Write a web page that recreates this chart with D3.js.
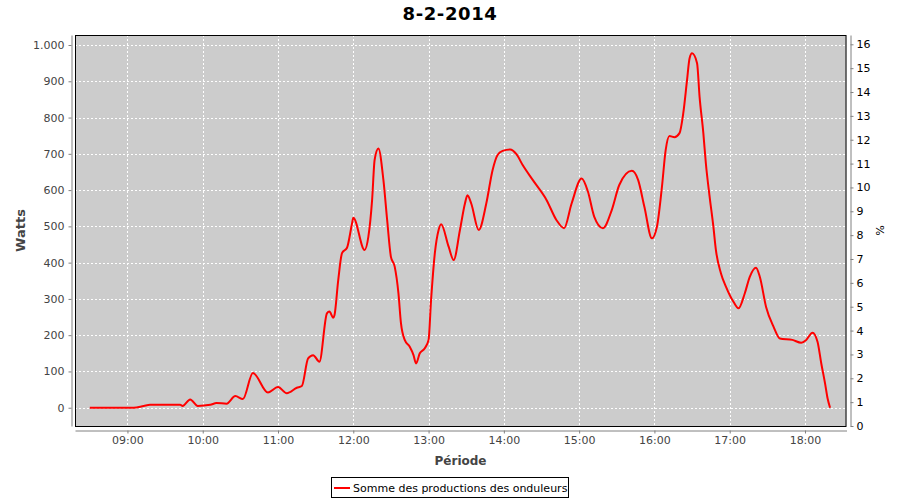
<!DOCTYPE html>
<html><head><meta charset="utf-8">
<script src="https://cdn.jsdelivr.net/npm/d3@7"></script>
<style>body{margin:0;background:#fff}svg{display:block}text{font-family:"DejaVu Sans",sans-serif}</style>
</head><body><svg id="c" width="900" height="500"></svg>
<script>
const title = "8-2-2014";
const seriesName = "Somme des productions des onduleurs";
const yLabel = "Watts";
const y2Label = "%";
const xLabel = "Période";
const times = ["08:30","09:05","09:13","09:18","09:42","09:44","09:50","09:56","10:06","10:11","10:19","10:26","10:32","10:40","10:52","11:00","11:07","11:15","11:19","11:24","11:28","11:33","11:39","11:41","11:44","11:45","11:48","11:51","11:55","11:59","12:00","12:09","12:12","12:15","12:17","12:20","12:24","12:27","12:30","12:33","12:36","12:38","12:41","12:45","12:48","12:50","12:53","12:57","13:00","13:02","13:05","13:08","13:10","13:16","13:20","13:25","13:29","13:31","13:34","13:40","13:46","13:51","13:55","13:59","14:05","14:10","14:15","14:23","14:34","14:42","14:48","14:54","15:02","15:07","15:12","15:19","15:26","15:32","15:42","15:47","15:52","15:58","16:02","16:06","16:09","16:12","16:16","16:20","16:23","16:26","16:28","16:30","16:34","16:36","16:39","16:41","16:44","16:47","16:49","16:53","16:57","17:03","17:07","17:12","17:16","17:21","17:24","17:29","17:35","17:40","17:50","17:57","18:01","18:06","18:10","18:13","18:16","18:18","18:20"];
const watts = [0,0,5,8,8,5,23,5,8,13,11,32,24,96,42,57,40,55,60,136,145,127,260,265,248,255,352,426,441,508,524,435,471,573,683,715,628,517,416,389,315,233,187,168,145,122,150,164,187,297,426,490,506,444,407,490,563,586,563,490,563,655,697,708,712,699,669,628,573,517,495,563,632,596,527,495,545,614,653,628,554,467,499,609,711,749,746,757,812,903,963,977,950,857,757,674,582,499,435,371,334,292,274,315,361,386,361,278,223,191,187,179,187,207,182,122,67,26,0];
const yTicks = [0,100,200,300,400,500,600,700,800,900,1000];
const y2Ticks = [0,1,2,3,4,5,6,7,8,9,10,11,12,13,14,15,16];
const xTickHours = [9,10,11,12,13,14,15,16,17,18];

const svg = d3.select("#c");
const L = 75, R = 846.5, T = 35, B = 426;
const tOf = s => { const [h,m] = s.split(":").map(Number); return new Date(2014,1,8,h,m); };
const x = d3.scaleTime().domain([new Date(2014,1,8,8,18,12), new Date(2014,1,8,18,33,6)]).range([L, R]);
const y = d3.scaleLinear().domain([-50.4, 1027.6]).range([B, T]);
const y2 = d3.scaleLinear().domain([0, 16.39]).range([B, T]);

svg.append("rect").attr("x",L).attr("y",T).attr("width",R-L).attr("height",B-T).attr("fill","#cccccc");
const xTicks = xTickHours.map(h => new Date(2014,1,8,h,0));
const grid = svg.append("g").attr("stroke","#fff").attr("stroke-width",1).attr("stroke-dasharray","2,2");
xTicks.forEach(t => grid.append("line").attr("x1",Math.round(x(t))+0.5).attr("x2",Math.round(x(t))+0.5).attr("y1",T).attr("y2",B));
yTicks.forEach(v => grid.append("line").attr("x1",L).attr("x2",R).attr("y1",Math.round(y(v))+0.5).attr("y2",Math.round(y(v))+0.5));

const data = times.map((t,i) => ({t: tOf(t), v: watts[i]}));
svg.append("path").datum(data).attr("fill","none").attr("stroke","#ff0000").attr("stroke-width",2)
  .attr("stroke-linejoin","round")
  .attr("d", d3.line().x(d=>x(d.t)).y(d=>y(d.v)).curve(d3.curveMonotoneX));

svg.append("rect").attr("x",L+0.5).attr("y",T+0.5).attr("width",R-L-1).attr("height",B-T).attr("fill","none").attr("stroke","#000");

function styleAxis(g){
  g.select(".domain").attr("stroke","#808080");
  g.selectAll(".tick line").attr("stroke","#808080");
  g.selectAll(".tick text").attr("fill","#444").style("font-family","DejaVu Sans").style("font-size","11px");
}
const gx = svg.append("g").attr("transform","translate(0,430.5)")
  .call(d3.axisBottom(x).tickValues(xTicks).tickFormat(d3.timeFormat("%H:%M")).tickSize(3).tickSizeOuter(0).tickPadding(3));
styleAxis(gx);
const gy = svg.append("g").attr("transform","translate(71.5,0)")
  .call(d3.axisLeft(y).tickValues(yTicks).tickFormat(v => v===1000 ? "1.000" : String(v)).tickSize(3).tickSizeOuter(0).tickPadding(4));
styleAxis(gy);
const gy2 = svg.append("g").attr("transform","translate(850.5,0)")
  .call(d3.axisRight(y2).tickValues(y2Ticks).tickSize(3).tickSizeOuter(0).tickPadding(3));
styleAxis(gy2);
gy2.selectAll(".tick text").attr("fill","#000");

svg.append("text").attr("x",450).attr("y",20).attr("text-anchor","middle").style("font-size","18px").style("letter-spacing","0.6px").style("font-weight","bold").attr("fill","#000").text(title);
svg.append("text").attr("x",460.5).attr("y",465).attr("text-anchor","middle").style("font-size","12px").style("font-weight","bold").attr("fill","#444").text(xLabel);
svg.append("text").attr("transform","translate(25,230.5) rotate(-90)").attr("text-anchor","middle").style("font-size","13px").style("font-weight","bold").attr("fill","#444").text(yLabel);
svg.append("text").attr("transform","translate(876,230.5) rotate(90)").attr("text-anchor","middle").style("font-size","11px").attr("fill","#000").text(y2Label);

const lg = svg.append("g");
lg.append("rect").attr("x",331.5).attr("y",477.5).attr("width",237).attr("height",20).attr("fill","#fff").attr("stroke","#000");
lg.append("line").attr("x1",334).attr("x2",350).attr("y1",488).attr("y2",488).attr("stroke","#ff0000").attr("stroke-width",2);
lg.append("text").attr("x",353).attr("y",492).style("font-size","11px").attr("fill","#000").text(seriesName);
</script></body></html>
